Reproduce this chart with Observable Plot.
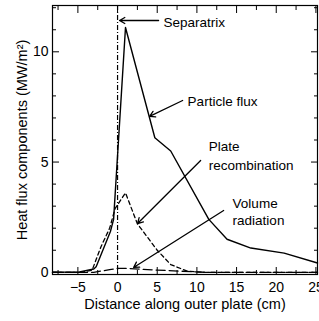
<!DOCTYPE html>
<html><head><meta charset="utf-8">
<script src="https://cdn.jsdelivr.net/npm/d3@7"></script>
<script src="https://cdn.jsdelivr.net/npm/@observablehq/plot@0.6"></script>
<style>body{margin:0;background:#fff} svg{display:block}</style>
</head><body><div id="chart"></div>
<script>
// Particle flux (solid)
const particleX = [-8.2, -4.8, -3.0, -2.7, -0.9, -0.5, 1.0, 4.7, 6.7, 11.5, 13.8, 16.8, 21.0, 25.2];
const particleY = [0, 0.02, 0.15, 0.25, 1.85, 2.4, 11.1, 6.1, 5.5, 2.4, 1.5, 1.1, 0.87, 0.42];
// Plate recombination (short dashes)
const plateX = [-8.2, -4.5, -3.2, -2.1, -1.0, -0.3, 1.0, 2.5, 5.0, 6.7, 8.8, 11.0, 25.2];
const plateY = [0, 0, 0.1, 1.15, 2.0, 2.9, 3.6, 2.2, 1.0, 0.35, 0.05, 0, 0];
// Volume radiation (long dashes)
const volumeX = [-8.2, -3.0, -1.0, 0, 1.0, 3.0, 5.0, 8.0, 11.0, 25.2];
const volumeY = [0, 0, 0.12, 0.18, 0.18, 0.14, 0.1, 0.05, 0, 0];
// Separatrix position
const separatrixX = [0];
// ticks
const xTicks = [-5, 0, 5, 10, 15, 20, 25];
const xMinor = [-7.5, -2.5, 2.5, 7.5, 12.5, 17.5, 22.5];
const yTicks = [0, 5, 10];
const yMinor = [1, 2, 3, 4, 6, 7, 8, 9, 11, 12];
// annotations
const labels = ["Separatrix", "Particle flux", "Plate\nrecombination", "Volume\nradiation"];
const labelX = [5.8, 8.83, 11.48, 14.5];
const labelY = [11.37, 7.79, 5.34, 2.78];
const labelLH = [1.2, 1.2, 1.38, 1.3];
const arrowX1 = [5.17, 8.2, 10.47, 13.37];
const arrowY1 = [11.42, 7.79, 5.07, 2.80];
const arrowX2 = [0.25, 4.04, 2.52, 2.02];
const arrowY2 = [11.42, 7.07, 2.21, 0.22];

const toRows = (xs, ys) => xs.map((x, i) => ({x, y: ys[i]}));
const ann = labels.map((t, i) => ({t, x: labelX[i], y: labelY[i], lh: labelLH[i]}));
const arrows = arrowX1.map((x1, i) => ({x1, y1: arrowY1[i], x2: arrowX2[i], y2: arrowY2[i]}));

const font = "Liberation Sans, Arial, Helvetica, sans-serif";

const chart = Plot.plot({
  width: 319,
  height: 321,
  marginLeft: 52,
  marginRight: 2,
  marginTop: 5,
  marginBottom: 47,
  style: {fontFamily: font, fontSize: "14px", color: "black", background: "white"},
  x: {domain: [-8.2, 25.2]},
  y: {domain: [-0.1, 12.1]},
  marks: [
    Plot.frame({stroke: "black", strokeWidth: 1.2}),
    // labels
    Plot.axisX(xTicks, {anchor: "bottom", tickSize: 0, tickPadding: 8, label: null, fontSize: 14}),
    Plot.axisY(yTicks, {anchor: "left", tickSize: 0, tickPadding: 4, label: null, fontSize: 14}),
    // inward ticks
    Plot.axisX(xTicks, {anchor: "bottom", tickSize: -7, text: null, label: null}),
    Plot.axisX(xMinor, {anchor: "bottom", tickSize: -4, text: null, label: null}),
    Plot.axisX(xTicks, {anchor: "top", tickSize: -7, text: null, label: null}),
    Plot.axisX(xMinor, {anchor: "top", tickSize: -4, text: null, label: null}),
    Plot.axisY(yTicks, {anchor: "left", tickSize: -7, text: null, label: null}),
    Plot.axisY(yMinor, {anchor: "left", tickSize: -4, text: null, label: null}),
    Plot.axisY(yTicks, {anchor: "right", tickSize: -7, text: null, label: null}),
    Plot.axisY(yMinor, {anchor: "right", tickSize: -4, text: null, label: null}),
    Plot.text(["Distance along outer plate (cm)"], {frameAnchor: "bottom", textAnchor: "middle", dy: 34, fontSize: 14.5, fill: "black"}),
    Plot.text(["Heat flux components (MW/m²)"], {frameAnchor: "left", textAnchor: "middle", rotate: -90, dx: -30, fontSize: 14.5, fill: "black"}),
    // separatrix
    Plot.ruleX(separatrixX, {stroke: "black", strokeWidth: 1.2, strokeDasharray: "5,2,1,2"}),
    // series
    Plot.line(toRows(volumeX, volumeY), {x: "x", y: "y", stroke: "black", strokeWidth: 1.3, strokeDasharray: "9,4"}),
    Plot.line(toRows(plateX, plateY), {x: "x", y: "y", stroke: "black", strokeWidth: 1.3, strokeDasharray: "4,3"}),
    Plot.line(toRows(particleX, particleY), {x: "x", y: "y", stroke: "black", strokeWidth: 1.4}),
    // annotations
    Plot.arrow(arrows, {x1: "x1", y1: "y1", x2: "x2", y2: "y2", stroke: "black", strokeWidth: 1.3, headLength: 7}),
    ...ann.map(a => Plot.text([a], {x: "x", y: "y", text: "t", textAnchor: "start", lineAnchor: "middle", lineHeight: a.lh, fontSize: 13.5, fill: "black"}))
  ]
});
document.getElementById("chart").appendChild(chart);
</script>
</body></html>
